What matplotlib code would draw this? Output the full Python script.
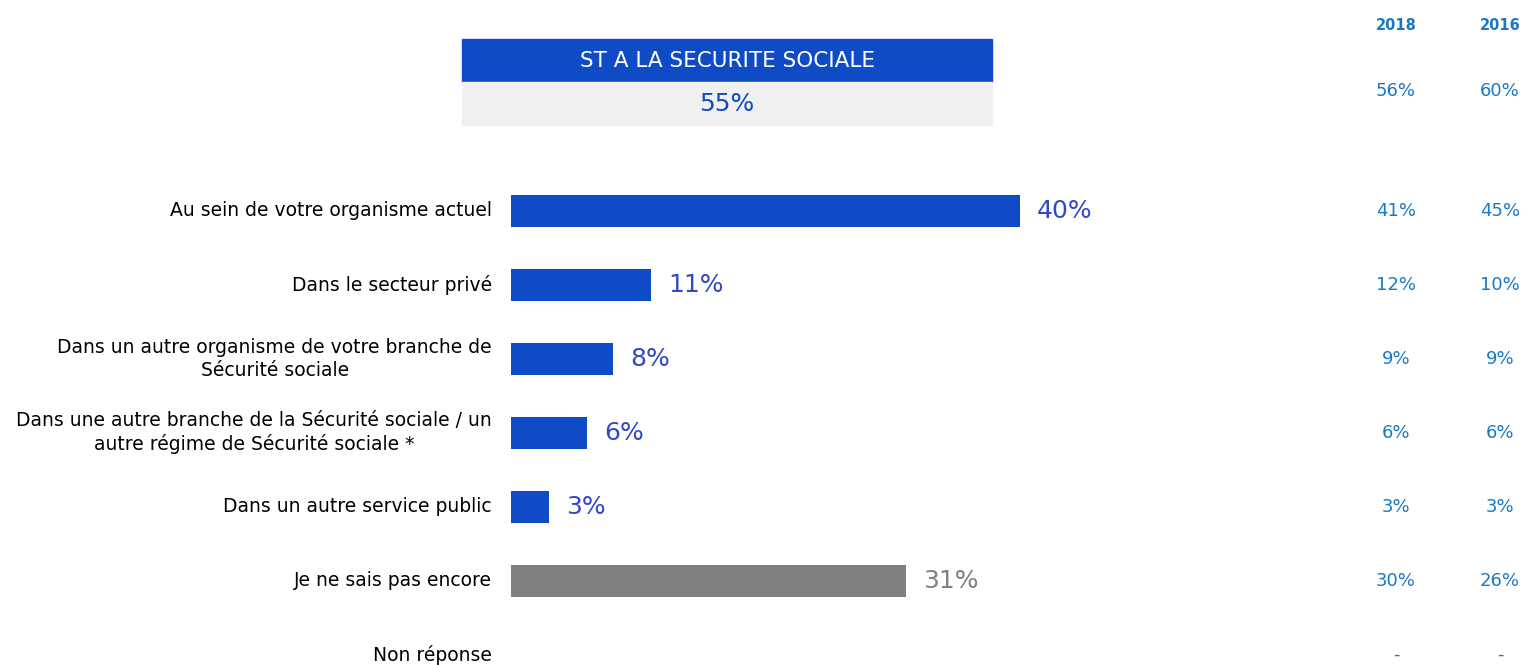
import matplotlib.pyplot as plt
from matplotlib.patches import Rectangle
from matplotlib.transforms import blended_transform_factory

# data
labels = [
    "Au sein de votre organisme actuel",
    "Dans le secteur privé",
    "Dans un autre organisme de votre branche de\nSécurité sociale",
    "Dans une autre branche de la Sécurité sociale / un\nautre régime de Sécurité sociale *",
    "Dans un autre service public",
    "Je ne sais pas encore",
    "Non réponse",
]
values_2019 = [40, 11, 8, 6, 3, 31, None]
values_2018 = ["41%", "12%", "9%", "6%", "3%", "30%", "-"]
values_2016 = ["45%", "10%", "9%", "6%", "3%", "26%", "-"]
years = ["2018", "2016"]
st_title = "ST A LA SECURITE SOCIALE"
st_2019 = "55%"
st_prev = ["56%", "60%"]

BLUE = "#0f4bc4"
GREY = "#808080"
LBL_BLUE = "#3248c8"
COL_BLUE = "#1a78c8"

W, H = 1528, 665
fig = plt.figure(figsize=(W / 100, H / 100), dpi=100)

# bars start at px 511, rows centred at 211 + 74*i, ~12.73 px per %
left = 511 / W
ax = fig.add_axes([left, 0, 1 - left, 1])
ax.set_xlim(0, (W - 511) / 12.73)
ax.set_ylim((H - 211) / 74, -211 / 74)
ax.axis("off")

bar_colors = [BLUE] * 5 + [GREY, GREY]
for i, (lab, v) in enumerate(zip(labels, values_2019)):
    ax.text(-19 / 12.73, i, lab, ha="right", va="center", multialignment="center",
            fontsize=13.5, color="black", linespacing=1.25)
    if v is None:
        continue
    ax.barh(i, v, height=0.43, color=bar_colors[i])
    ax.text(v + 17 / 12.73, i, f"{v}%", ha="left", va="center", fontsize=18,
            color=LBL_BLUE if bar_colors[i] == BLUE else GREY)

# comparison columns
col_x = [1396 / W, 1500 / W]
tr = blended_transform_factory(fig.transFigure, ax.transData)
for cx, yr, st, vals in zip(col_x, years, st_prev, [values_2018, values_2016]):
    fig.text(cx, 1 - 25 / H, yr, ha="center", va="center", fontsize=10.5,
             fontweight="semibold", color=COL_BLUE)
    fig.text(cx, 1 - 91 / H, st, ha="center", va="center", fontsize=13, color=COL_BLUE)
    for i, s in enumerate(vals):
        ax.text(cx, i, s, ha="center", va="center", fontsize=13, color=COL_BLUE,
                transform=tr)

# header box "ST"
bx0, bx1 = 462 / W, 992 / W
fig.patches.append(Rectangle((bx0, 1 - 82 / H), bx1 - bx0, 43 / H,
                             transform=fig.transFigure, color=BLUE, zorder=0))
fig.patches.append(Rectangle((bx0, 1 - 125 / H), bx1 - bx0, 43 / H,
                             transform=fig.transFigure, color="#f0f0f0", zorder=0))
fig.text((bx0 + bx1) / 2, 1 - 61 / H, st_title, ha="center", va="center",
         fontsize=15.5, color="white")
fig.text((bx0 + bx1) / 2, 1 - 104 / H, st_2019, ha="center", va="center",
         fontsize=18, color=BLUE)

fig.savefig("out.png", dpi=100)
